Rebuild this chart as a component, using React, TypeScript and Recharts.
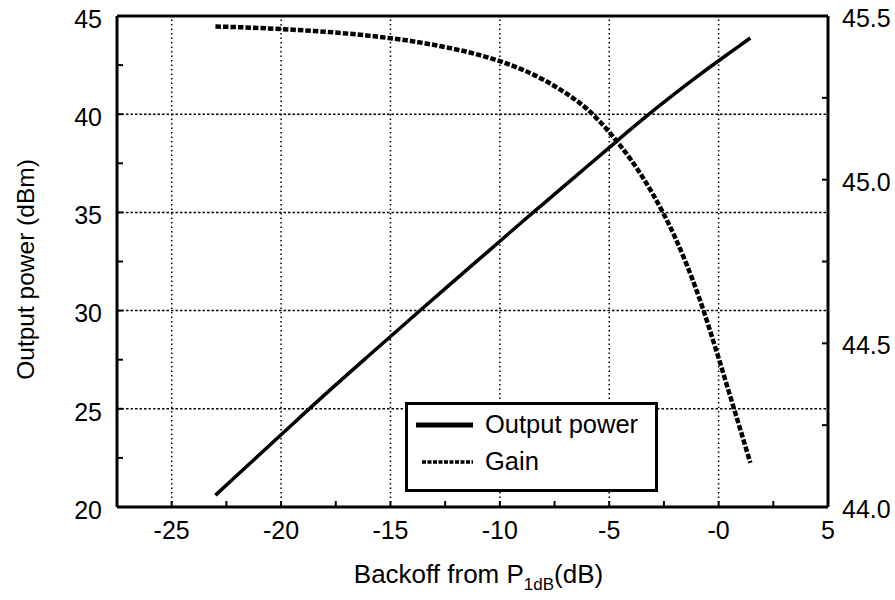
import React from 'react';
import {
  LineChart,
  Line,
  XAxis,
  YAxis,
  ReferenceLine,
  Legend,
} from 'recharts';

// backoff from P1dB (dB)
const backoff = [-23, -22, -20, -18, -16, -15, -14, -12.5, -11, -10, -9, -8, -7, -6, -5, -4, -3, -2, -1, 0, 0.5, 1, 1.45];
// output power (dBm), left axis
const outputPower = [20.6, 21.63, 23.68, 25.72, 27.7, 28.68, 29.66, 31.12, 32.57, 33.53, 34.5, 35.45, 36.4, 37.35, 38.3, 39.25, 40.17, 41.05, 41.9, 42.72, 43.12, 43.52, 43.88];
// gain (dB), right axis
const gain = [45.468, 45.466, 45.46, 45.452, 45.44, 45.432, 45.423, 45.405, 45.382, 45.362, 45.337, 45.305, 45.265, 45.215, 45.145, 45.06, 44.955, 44.825, 44.66, 44.455, 44.345, 44.235, 44.135];

const xTicks = [-25, -22.5, -20, -17.5, -15, -12.5, -10, -7.5, -5, -2.5, 0, 2.5, 5];
const xLabels = [-25, -20, -15, -10, -5, 0, 5];
const leftTicks = [20, 22.5, 25, 27.5, 30, 32.5, 35, 37.5, 40, 42.5, 45];
const leftLabels = [20, 25, 30, 35, 40, 45];
const rightTicks = [44, 44.25, 44.5, 44.75, 45, 45.25, 45.5];
const rightLabels = [44, 44.5, 45, 45.5];
const gridX = [-25, -20, -15, -10, -5, 0];
const gridY = [25, 30, 35, 40];
const legendOrder = ['power', 'gain'];

const FONT = '"Liberation Sans", Arial, Helvetica, sans-serif';

const chartData = backoff.map((b, i) => ({
  backoff: b,
  power: outputPower[i],
  gain: gain[i],
}));

const XTick = (props: any) => {
  const { x, y, payload } = props;
  const v = payload.value;
  return (
    <g>
      <line x1={x} y1={y} x2={x} y2={y - 6} stroke="#000" strokeWidth={2} />
      {xLabels.includes(v) && (
        <text x={x} y={y + 23} dy="0.355em" textAnchor="middle" fontSize={25} fontFamily={FONT} fill="#000">
          {v === 0 ? '-0' : v}
        </text>
      )}
    </g>
  );
};

const LeftTick = (props: any) => {
  const { x, y, payload } = props;
  const v = payload.value;
  return (
    <g>
      <line x1={x} y1={y} x2={x + 6} y2={y} stroke="#000" strokeWidth={2} />
      {leftLabels.includes(v) && (
        <text x={x - 15} y={y + 3} dy="0.355em" textAnchor="end" fontSize={25} fontFamily={FONT} fill="#000">
          {v}
        </text>
      )}
    </g>
  );
};

const RightTick = (props: any) => {
  const { x, y, payload } = props;
  const v = payload.value;
  return (
    <g>
      <line x1={x} y1={y} x2={x - 6} y2={y} stroke="#000" strokeWidth={2} />
      {rightLabels.includes(v) && (
        <text x={x + 14} y={y + 2} dy="0.355em" textAnchor="start" fontSize={25} fontFamily={FONT} fill="#000">
          {v.toFixed(1)}
        </text>
      )}
    </g>
  );
};

const XTitle = (props: any) => {
  const { viewBox } = props;
  const cx = viewBox.x + viewBox.width / 2 + 6;
  return (
    <text x={cx} y={viewBox.y + 76} textAnchor="middle" fontSize={26} fontFamily={FONT} fill="#000">
      Backoff from P
      <tspan fontSize={17} dy={7}>1dB</tspan>
      <tspan dy={-7}>(dB)</tspan>
    </text>
  );
};

const YTitle = (props: any) => {
  const { viewBox } = props;
  const cy = viewBox.y + viewBox.height / 2 + 8;
  return (
    <text
      x={25}
      y={cy}
      dy="0.355em"
      textAnchor="middle"
      fontSize={24.5}
      fontFamily={FONT}
      fill="#000"
      transform={`rotate(-90, 25, ${cy})`}
    >
      Output power (dBm)
    </text>
  );
};

const legendStyles: Record<string, { width: number; dash?: string }> = {
  power: { width: 5 },
  gain: { width: 3.5, dash: '4 1.5' },
};

const LegendBox = (props: any) => {
  const items = [...(props.payload || [])].sort(
    (a: any, b: any) => legendOrder.indexOf(a.dataKey) - legendOrder.indexOf(b.dataKey)
  );
  return (
    <div
      style={{
        boxSizing: 'border-box',
        width: 253,
        height: 90,
        border: '3px solid #000',
        background: '#fff',
        fontFamily: FONT,
        fontSize: 25.5,
        color: '#000',
        paddingTop: 1,
      }}
    >
      {items.map((entry: any) => {
        const s = legendStyles[entry.dataKey] || { width: 3 };
        return (
          <div key={entry.dataKey} style={{ display: 'flex', alignItems: 'center', height: 37 }}>
            <svg width={77} height={20} style={{ flex: 'none' }}>
              <line
                x1={entry.dataKey === 'gain' ? 14 : 8}
                y1={10}
                x2={65}
                y2={10}
                stroke="#000"
                strokeWidth={s.width}
                strokeDasharray={s.dash}
              />
            </svg>
            <span>{entry.value}</span>
          </div>
        );
      })}
    </div>
  );
};

export default function App() {
  return (
    <div style={{ position: 'absolute', left: 0, top: 0, background: '#fff' }}>
      <LineChart
        width={895}
        height={600}
        data={chartData}
        margin={{ top: 16, right: 0, bottom: 0, left: 0 }}
      >
        <XAxis
          dataKey="backoff"
          type="number"
          domain={[-27.5, 5]}
          ticks={xTicks}
          interval={0}
          tickSize={0}
          tickMargin={0}
          tick={<XTick />}
          height={93}
          axisLine={{ stroke: '#000', strokeWidth: 3 }}
          label={{ content: <XTitle /> }}
        />
        <YAxis
          yAxisId="left"
          orientation="left"
          type="number"
          domain={[20, 45]}
          ticks={leftTicks}
          interval={0}
          tickSize={0}
          tickMargin={0}
          tick={<LeftTick />}
          width={117}
          axisLine={{ stroke: '#000', strokeWidth: 3 }}
          label={{ content: <YTitle /> }}
        />
        <YAxis
          yAxisId="right"
          orientation="right"
          type="number"
          domain={[44, 45.5]}
          ticks={rightTicks}
          interval={0}
          tickSize={0}
          tickMargin={0}
          tick={<RightTick />}
          width={67}
          axisLine={{ stroke: '#000', strokeWidth: 3 }}
        />
        {gridX.map((v) => (
          <ReferenceLine
            key={`gx${v}`}
            x={v}
            yAxisId="left"
            stroke="#000"
            strokeWidth={1.5}
            strokeDasharray="1.5 3"
          />
        ))}
        {gridY.map((v) => (
          <ReferenceLine
            key={`gy${v}`}
            y={v}
            yAxisId="left"
            stroke="#000"
            strokeWidth={1.5}
            strokeDasharray="2.5 2"
          />
        ))}
        <ReferenceLine y={45} yAxisId="left" stroke="#000" strokeWidth={3} />
        <Line
          yAxisId="left"
          type="monotone"
          dataKey="power"
          name="Output power"
          stroke="#000"
          strokeWidth={3.5}
          dot={false}
          activeDot={false}
          isAnimationActive={false}
        />
        <Line
          yAxisId="right"
          type="monotone"
          dataKey="gain"
          name="Gain"
          stroke="#000"
          strokeWidth={4.5}
          strokeDasharray="5.5 2"
          dot={false}
          activeDot={false}
          isAnimationActive={false}
        />
        <Legend
          layout="vertical"
          align="center"
          verticalAlign="middle"
          content={<LegendBox />}
          wrapperStyle={{ left: 405, top: 402, width: 253, height: 90 }}
        />
      </LineChart>
    </div>
  );
}
